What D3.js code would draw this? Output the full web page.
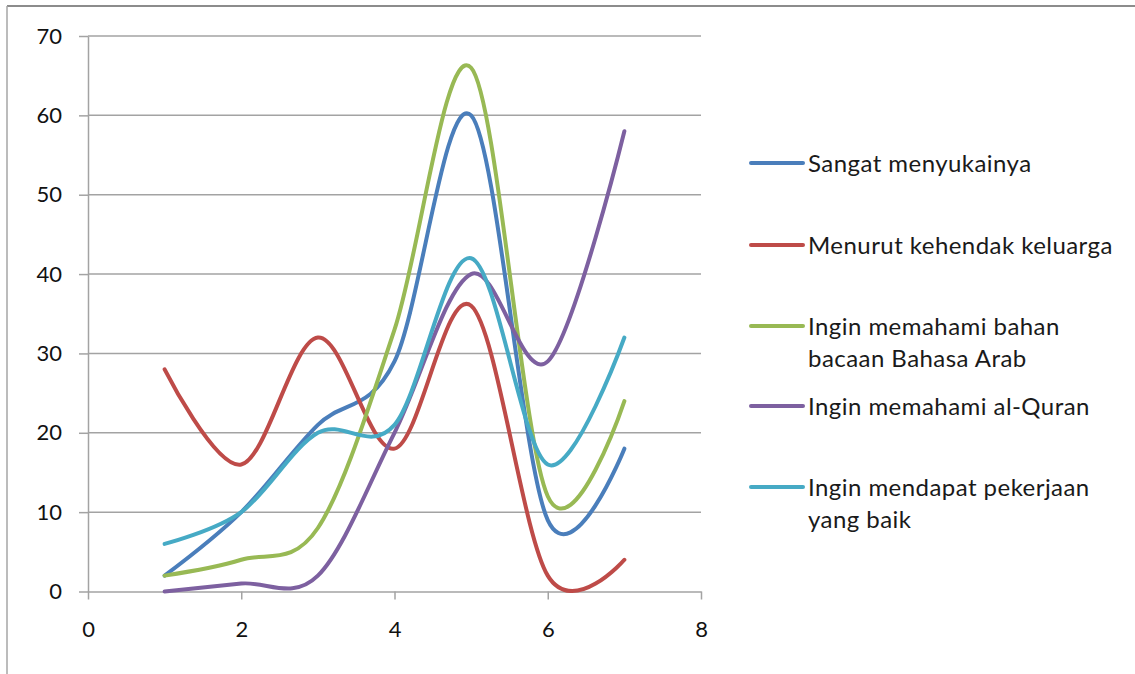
<!DOCTYPE html>
<html><head><meta charset="utf-8">
<script src="https://cdn.jsdelivr.net/npm/d3@7"></script>
<style>
html,body{margin:0;padding:0;background:#fff;}
svg{display:block;font-family:Lato,"Open Sans",sans-serif;}
</style></head>
<body>
<svg id="chart" width="1135" height="674"></svg>
<script>
const xValues = [1, 2, 3, 4, 5, 6, 7];
const seriesNames = [
  ["Sangat menyukainya"],
  ["Menurut kehendak keluarga"],
  ["Ingin memahami bahan", "bacaan Bahasa Arab"],
  ["Ingin memahami al-Quran"],
  ["Ingin mendapat pekerjaan", "yang baik"]
];
const sangat = [2, 10, 21, 29, 60, 9, 18];
const keluarga = [28, 16, 32, 18, 36, 2, 4];
const bahanArab = [2, 4, 8, 33, 66, 12, 24];
const alQuran = [0, 1, 2, 20, 40, 29, 58];
const pekerjaan = [6, 10, 20, 21, 42, 16, 32];
const seriesColors = ["#4A7EBB", "#BE4B48", "#98B954", "#7D60A0", "#46AAC5"];
const xTicks = [0, 2, 4, 6, 8];
const yTicks = [0, 10, 20, 30, 40, 50, 60, 70];

const allSeries = [sangat, keluarga, bahanArab, alQuran, pekerjaan];
const svg = d3.select("#chart");

// outer frame
svg.append("line").attr("x1", 7).attr("x2", 1135).attr("y1", 6).attr("y2", 6)
  .attr("stroke", "#8c8c8c").attr("stroke-width", 2);
svg.append("line").attr("x1", 7).attr("x2", 7).attr("y1", 6).attr("y2", 674)
  .attr("stroke", "#a6a6a6").attr("stroke-width", 1.5);

const x = d3.scaleLinear().domain([0, 8]).range([88, 701]);
const y = d3.scaleLinear().domain([0, 70]).range([591.5, 36]);

// gridlines
svg.append("g").selectAll("line").data(yTicks.filter(d => d > 0)).join("line")
  .attr("x1", x(0)).attr("x2", x(8))
  .attr("y1", d => y(d)).attr("y2", d => y(d))
  .attr("stroke", "#a3a3a3").attr("stroke-width", 1.5);

// y axis
const yAxis = svg.append("g").attr("transform", `translate(${x(0)},0)`)
  .call(d3.axisLeft(y).tickValues(yTicks).tickSize(9).tickSizeOuter(0).tickPadding(17));
// x axis
const xAxis = svg.append("g").attr("transform", `translate(0,${y(0)})`)
  .call(d3.axisBottom(x).tickValues(xTicks).tickSize(8).tickSizeOuter(0).tickPadding(22));
[yAxis, xAxis].forEach(g => {
  g.select(".domain").attr("stroke", "#a3a3a3").attr("stroke-width", 1.5);
  g.selectAll(".tick line").attr("stroke", "#a3a3a3").attr("stroke-width", 1.5);
  g.selectAll("text").attr("font-family", "Lato, 'Open Sans', sans-serif")
    .attr("font-size", 22).attr("fill", "#111");
});

// series lines
const line = d3.line().x((d, i) => x(xValues[i])).y(d => y(d))
  .curve(d3.curveCardinal.tension(0));
svg.append("g").selectAll("path").data(allSeries).join("path")
  .attr("d", d => line(d))
  .attr("fill", "none")
  .attr("stroke", (d, i) => seriesColors[i])
  .attr("stroke-width", 4)
  .attr("stroke-linecap", "round")
  .attr("stroke-linejoin", "round");

// legend
const legendY = [163, 245, 326, 406, 487];
const lg = svg.append("g");
seriesNames.forEach((lines, i) => {
  lg.append("line").attr("x1", 751).attr("x2", 803)
    .attr("y1", legendY[i]).attr("y2", legendY[i])
    .attr("stroke", seriesColors[i]).attr("stroke-width", 4).attr("stroke-linecap", "round");
  const t = lg.append("text").attr("x", 808).attr("y", legendY[i] + 9)
    .attr("font-size", 24).attr("letter-spacing", 0.45).attr("fill", "#1a1a1a");
  lines.forEach((s, j) => {
    t.append("tspan").attr("x", 808).attr("dy", j === 0 ? 0 : 32).text(s);
  });
});
</script>
</body></html>
